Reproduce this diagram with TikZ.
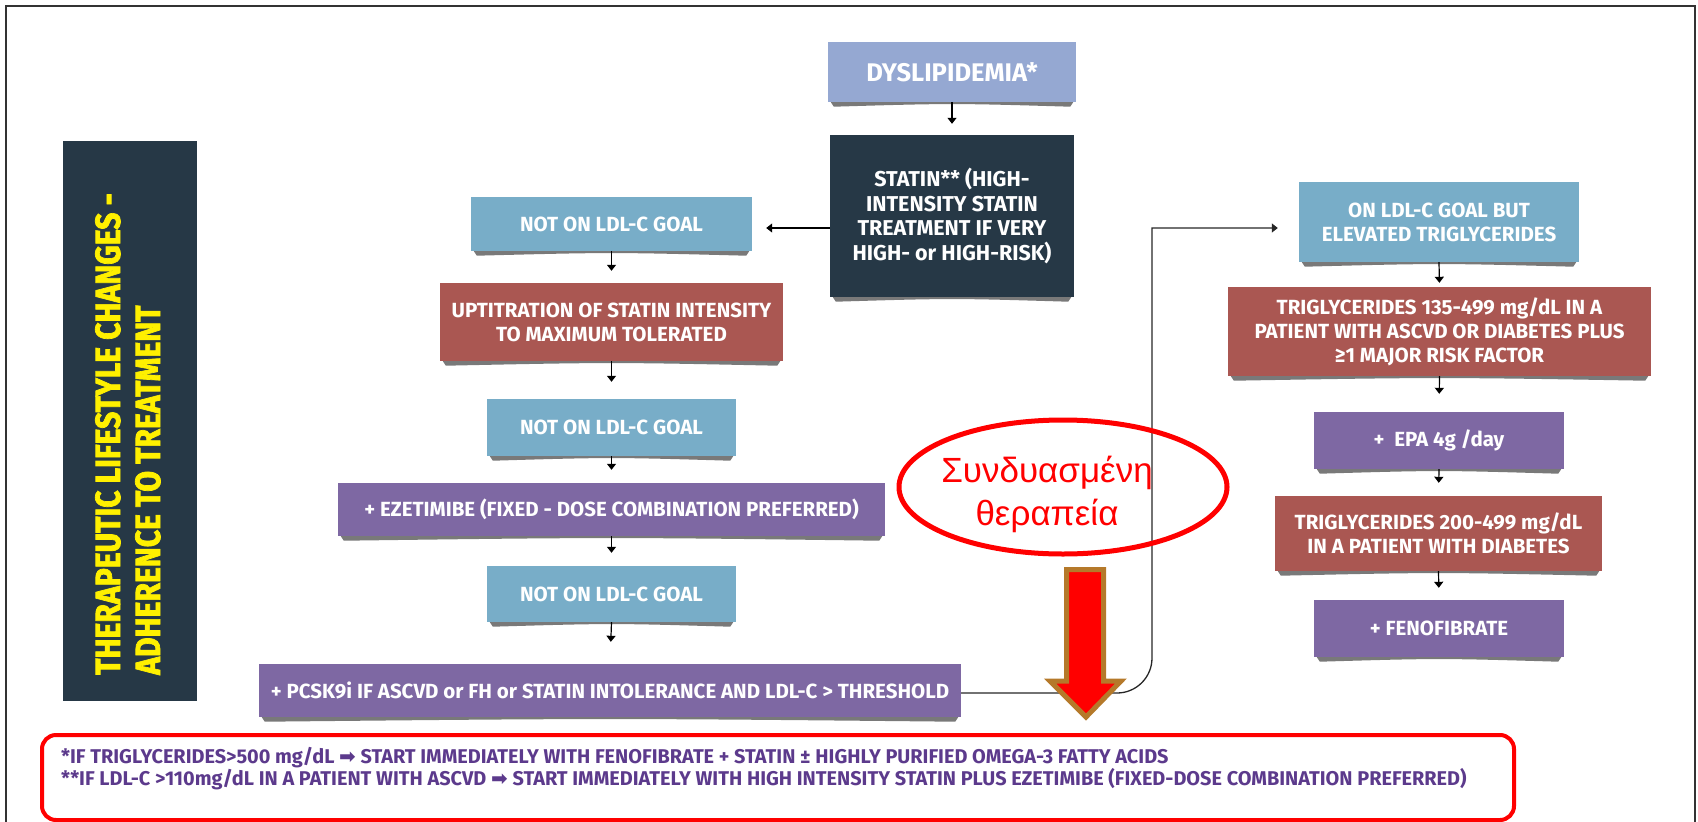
\documentclass[tikz,border=0pt]{standalone}
\usepackage{fontspec}
\setmainfont{Fira Sans}
\newfontfamily\greekfont{Liberation Sans}
\newfontfamily\symfont{DejaVu Sans}
\newfontfamily\barfont{Fira Sans}[FakeBold=2, FakeStretch=0.86]
\usetikzlibrary{arrows.meta,shapes.geometric,backgrounds}

\definecolor{cblue}{HTML}{78ADC8}
\definecolor{cred}{HTML}{AA5752}
\definecolor{cpurple}{HTML}{7E68A3}
\definecolor{cdark}{HTML}{263846}
\definecolor{cdys}{HTML}{95A8D2}
\definecolor{cyellow}{HTML}{FFF000}
\definecolor{cnote}{HTML}{5C3A8C}
\definecolor{cmark}{HTML}{FF0000}
\definecolor{cbronze}{HTML}{B5792A}

\begin{document}
\begin{tikzpicture}[x=1pt,y=-1pt,
  box/.style={rectangle, inner sep=0pt, text=white, align=center,
    font=\fontsize{20.5}{24}\selectfont\bfseries},
  bluebox/.style={box, fill=cblue},
  redbox/.style={box, fill=cred},
  purplebox/.style={box, fill=cpurple},
  darkbox/.style={box, fill=cdark},
  arr/.style={draw=black, line width=1.2pt, -{Triangle[width=9pt,length=6pt]}},
  conn/.style={draw=black!85, line width=1.3pt},
]
\useasboundingbox (0,0) rectangle (1698,822);

% outer frame
\draw[line width=2pt, black!80] (6,822) -- (6,6) -- (1695,6) -- (1695,822);

% side banner (multi-line nodes sit on the baseline of their last line)
\node[fill=cdark, minimum width=134pt, minimum height=560pt, inner sep=0pt] (banner) at (130,421) {};
\node[rotate=90, anchor=base west, align=left, text=cyellow, inner sep=0pt,
  font=\barfont\fontsize{35}{40}\selectfont\bfseries] (bannertext) at (160,675)
  {THERAPEUTIC LIFESTYLE CHANGES -\\ADHERENCE TO TREATMENT};

% centre column
\node[box, fill=cdys, minimum width=248pt, minimum height=60pt,
  font=\fontsize{25.5}{30}\selectfont\bfseries] (dys) at (952,72) {DYSLIPIDEMIA*};
\node[darkbox, minimum width=244pt, minimum height=162pt,
  font=\fontsize{21.5}{24.5}\selectfont\bfseries] (statin) at (952,216)
  {STATIN** (HIGH-\\INTENSITY STATIN\\TREATMENT IF VERY\\HIGH- or HIGH-RISK)};

% left column
\node[bluebox, minimum width=281pt, minimum height=54pt] (nl1) at (611.5,224) {NOT ON LDL-C GOAL};
\node[redbox, minimum width=343pt, minimum height=78pt] (up) at (611.5,322)
  {UPTITRATION OF STATIN INTENSITY\\TO MAXIMUM TOLERATED};
\node[bluebox, minimum width=249pt, minimum height=57pt] (nl2) at (611.5,427.5) {NOT ON LDL-C GOAL};
\node[purplebox, minimum width=547pt, minimum height=53pt] (eze) at (611.5,509.5)
  {+ EZETIMIBE (FIXED - DOSE COMBINATION PREFERRED)};
\node[bluebox, minimum width=249pt, minimum height=56pt] (nl3) at (611.5,594) {NOT ON LDL-C GOAL};
\node[purplebox, minimum width=702pt, minimum height=53pt] (pcsk) at (610,690.5)
  {+ PCSK9i IF ASCVD or FH or STATIN INTOLERANCE AND LDL-C > THRESHOLD};

% right column
\node[bluebox, minimum width=280pt, minimum height=80pt] (onldl) at (1439,222)
  {ON LDL-C GOAL BUT\\ELEVATED TRIGLYCERIDES};
\node[redbox, minimum width=423pt, minimum height=89pt] (tg1) at (1439.5,331.5)
  {TRIGLYCERIDES 135-499 mg/dL IN A\\PATIENT WITH ASCVD OR DIABETES PLUS\\≥1 MAJOR RISK FACTOR};
\node[purplebox, minimum width=250pt, minimum height=57pt] (epa) at (1439,440.5)
  {+\ \ EPA 4g /day};
\node[redbox, minimum width=327pt, minimum height=75pt] (tg2) at (1438.5,533.5)
  {TRIGLYCERIDES 200-499 mg/dL\\IN A PATIENT WITH DIABETES};
\node[purplebox, minimum width=250pt, minimum height=57pt] (feno) at (1439,628.5)
  {+ FENOFIBRATE};

% lifted-paper shadows under the boxes
\begin{scope}[on background layer]
\foreach \n in {dys,statin,nl1,up,nl2,eze,nl3,pcsk,onldl,tg1,epa,tg2,feno} {
  \fill[black!70, opacity=0.75]
    ([xshift=3pt]\n.south west) -- ([xshift=-3pt]\n.south east)
    -- ([xshift=-6pt,yshift=-4.5pt]\n.south east)
    .. controls ([yshift=-1pt]\n.south) .. ([xshift=6pt,yshift=-4.5pt]\n.south west) -- cycle;
}
\end{scope}

% flow arrows
\draw[arr, shorten >=11pt] (dys.south) -- (statin.north);
\draw[arr, shorten >=14pt] ([yshift=-12pt]statin.west) -- ([yshift=-4pt]nl1.east);
\draw[arr, shorten >=12pt] (nl1.south) -- (up.north);
\draw[arr, shorten >=17pt] (up.south) -- (nl2.north);
\draw[arr, shorten >=13pt] (nl2.south) -- (eze.north);
\draw[arr, shorten >=13pt] (eze.south) -- (nl3.north);
\draw[arr, shorten >=22pt] (nl3.south) -- (pcsk.north);
\draw[arr, shorten >=4pt] (onldl.south) -- (tg1.north);
\draw[arr, shorten >=18pt] (tg1.south) -- (epa.north);
\draw[arr, shorten >=13pt] (epa.south) -- (tg2.north);
\draw[arr, shorten >=12pt] (tg2.south) -- (feno.north);

% route from the PCSK9i step up to the triglyceride branch
\coordinate (bendstart) at (1117,693);
\coordinate (elbow) at (1152,228);
\draw[conn, -{Triangle[width=9pt,length=6pt]}, shorten >=21pt]
  ([yshift=-2.5pt]pcsk.east) -- (bendstart) arc[start angle=-90, end angle=0, radius=35pt]
  -- (elbow) -- ([yshift=-6pt]onldl.west);

% combined-therapy callout
\node[ellipse, draw=cmark, line width=5pt, minimum width=328pt, minimum height=134pt,
  inner sep=0pt] (combo) at (1063,487) {};
\node[anchor=base, align=center, text=cmark, inner sep=0pt,
  font=\greekfont\fontsize{35}{43}\selectfont] (combotext) at (1047,525)
  {Συνδυασμένη\\θεραπεία};
\draw[fill=cmark, draw=cbronze, line width=5pt, line join=miter]
  (1066.5,569.5) -- (1103.5,569.5) -- (1103.5,681) -- (1121,681) -- (1086,717)
  -- (1050,681) -- (1066.5,681) -- cycle;

% footnotes
\draw[cmark, line width=4pt, rounded corners=14pt] (42,735) rectangle (1514,820);
\node[anchor=base west, align=left, text=cnote, inner sep=0pt,
  font=\fontsize{19.9}{22}\selectfont\bfseries] (notes) at (61,785)
  {*IF TRIGLYCERIDES>500 mg/dL {\symfont ➡} START IMMEDIATELY WITH FENOFIBRATE + STATIN ± HIGHLY PURIFIED OMEGA-3 FATTY ACIDS\\
   **IF LDL-C >110mg/dL IN A PATIENT WITH ASCVD {\symfont ➡} START IMMEDIATELY WITH HIGH INTENSITY STATIN PLUS EZETIMIBE (FIXED-DOSE COMBINATION PREFERRED)};
\end{tikzpicture}
\end{document}
